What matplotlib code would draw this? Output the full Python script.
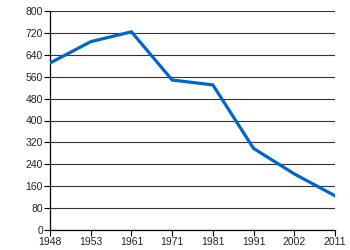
import matplotlib
matplotlib.use("Agg")
import matplotlib.pyplot as plt

years = ["1948", "1953", "1961", "1971", "1981", "1991", "2002", "2011"]
values = [610, 688, 724, 548, 530, 298, 205, 125]
yticks = [0, 80, 160, 240, 320, 400, 480, 560, 640, 720, 800]

plt.rcParams['font.family'] = ['Liberation Sans', 'DejaVu Sans']

fig = plt.figure(figsize=(3.5, 2.5), dpi=100)
ax = fig.add_axes([50 / 350, 20 / 250, 285 / 350, 219 / 250])

x = list(range(len(years)))
ax.plot(x, values, color='#0066CC', linewidth=2.3, solid_joinstyle='miter', zorder=3)

ax.set_xlim(0, len(years) - 1)
ax.set_ylim(0, 800)
ax.set_xticks(x)
ax.set_xticklabels(years)
ax.set_yticks(yticks)
ax.yaxis.grid(True, color='#333333', linewidth=0.8)
ax.set_axisbelow(True)

for side in ['top', 'right']:
    ax.spines[side].set_visible(False)
for side in ['left', 'bottom']:
    ax.spines[side].set_color('black')
    ax.spines[side].set_linewidth(0.9)

ax.tick_params(axis='both', labelsize=7.5, length=4, width=0.8, pad=1, colors='black')
for lbl in ax.get_xticklabels() + ax.get_yticklabels():
    lbl.set_color('#222222')

fig.savefig("out.png", dpi=100)
